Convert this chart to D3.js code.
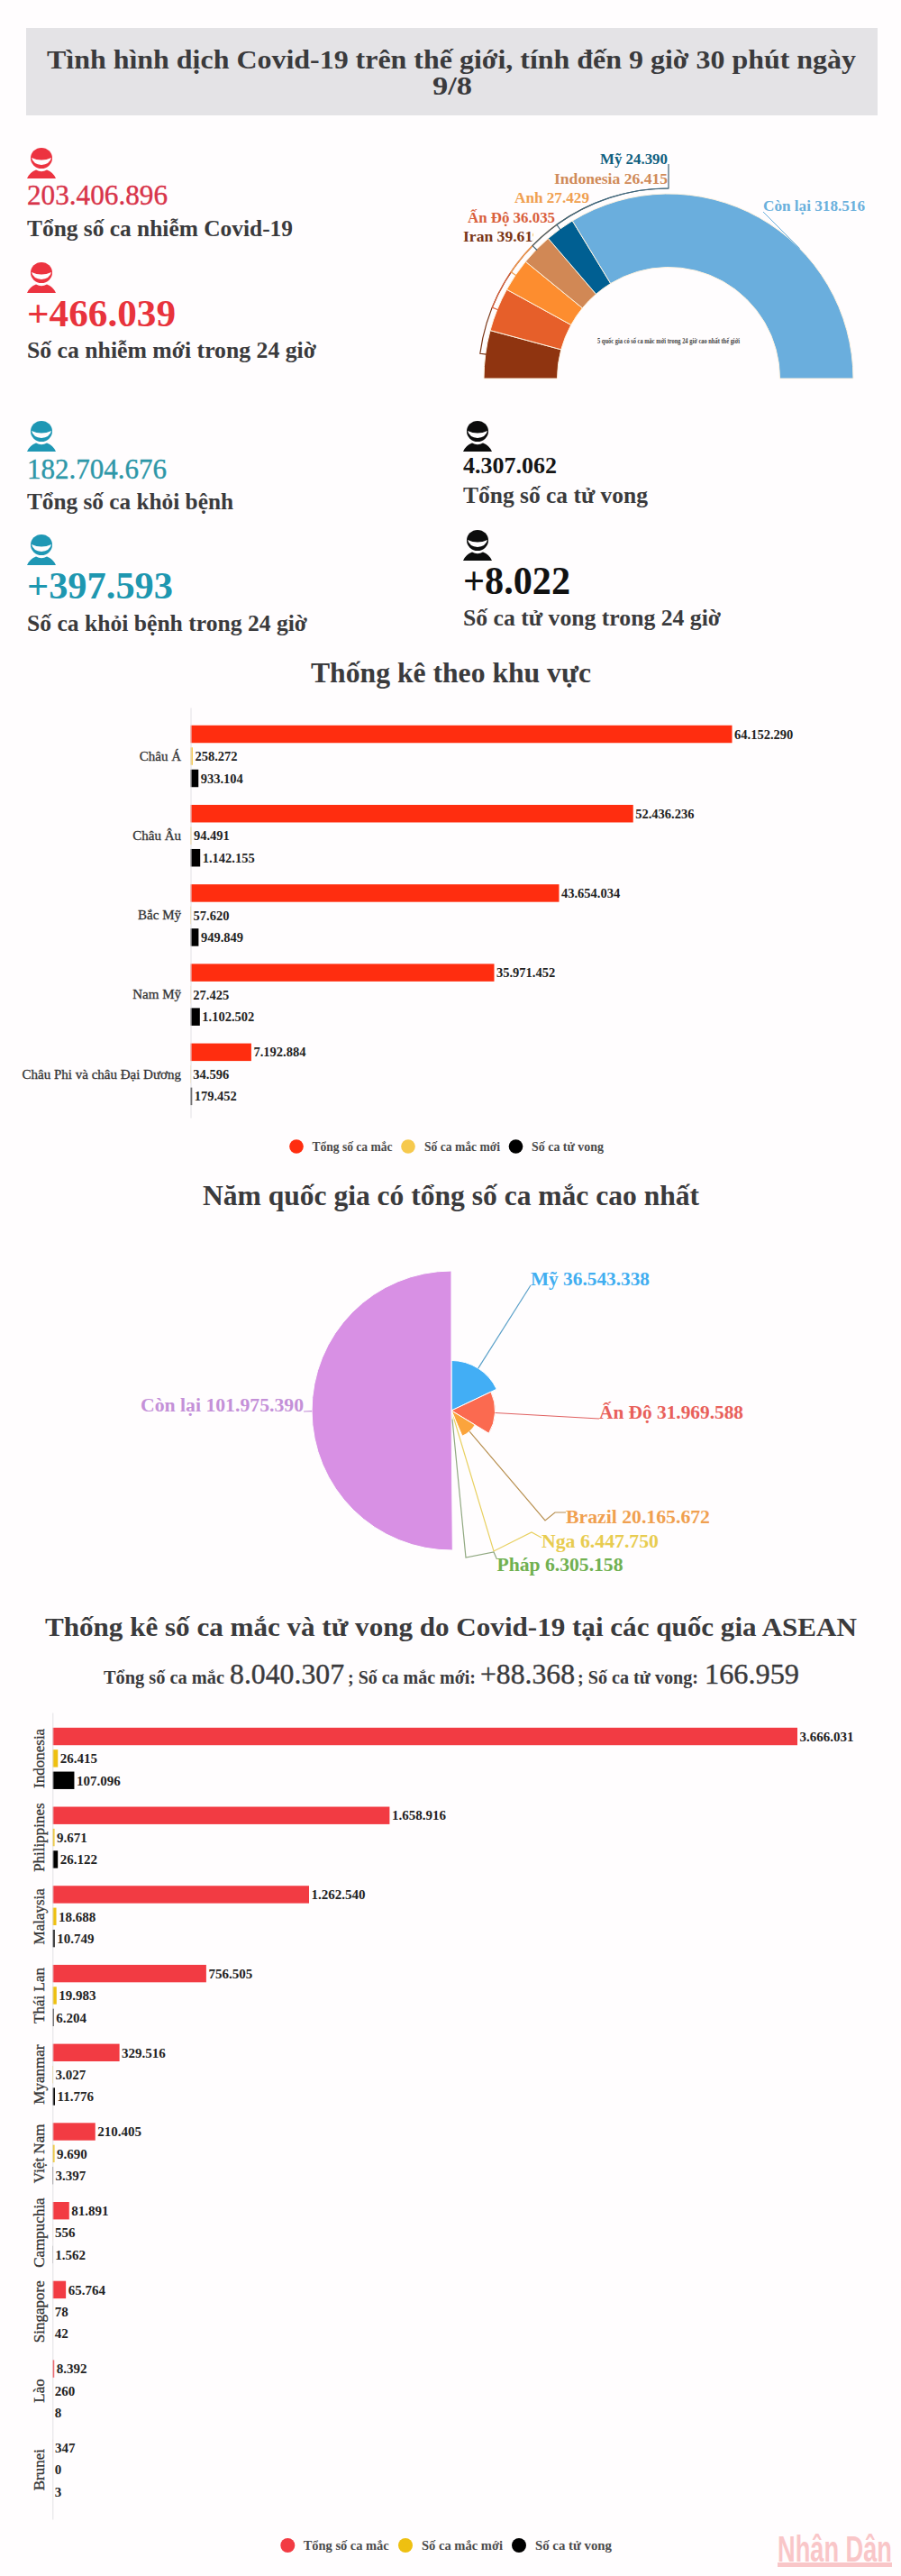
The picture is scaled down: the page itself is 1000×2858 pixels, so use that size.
<!DOCTYPE html>
<html>
<head>
<meta charset="utf-8">
<script src="https://cdn.jsdelivr.net/npm/d3@7"></script>
<style>
  html, body { margin: 0; padding: 0; background: #fffdfe; }
  svg { display: block; }
  text { font-family: "Liberation Serif", serif; }
</style>
</head>
<body>
<div id="chart"></div>
<script>
// so lieu doc tu anh
var halfNames = ["Iran", "Ấn Độ", "Anh", "Indonesia", "Mỹ", "Còn lại"];
var halfValues = [39619, 36035, 27429, 26415, 24390, 318516];
var halfLabels = ["Iran 39.619", "Ấn Độ 36.035", "Anh 27.429", "Indonesia 26.415", "Mỹ 24.390", "Còn lại 318.516"];

var regionNames = ["Châu Á", "Châu Âu", "Bắc Mỹ", "Nam Mỹ", "Châu Phi và châu Đại Dương"];
var regionTotal = [64152290, 52436236, 43654034, 35971452, 7192884];
var regionNew = [258272, 94491, 57620, 27425, 34596];
var regionDeaths = [933104, 1142155, 949849, 1102502, 179452];

var topNames = ["Mỹ", "Ấn Độ", "Brazil", "Nga", "Pháp", "Còn lại"];
var topValues = [36543338, 31969588, 20165672, 6447750, 6305158, 101975390];

var aseanNames = ["Indonesia", "Philippines", "Malaysia", "Thái Lan", "Myanmar", "Việt Nam", "Campuchia", "Singapore", "Lào", "Brunei"];
var aseanTotal = [3666031, 1658916, 1262540, 756505, 329516, 210405, 81891, 65764, 8392, 347];
var aseanNew = [26415, 9671, 18688, 19983, 3027, 9690, 556, 78, 260, 0];
var aseanDeaths = [107096, 26122, 10749, 6204, 11776, 3397, 1562, 42, 8, 3];

var seriesNames = ["Tổng số ca mắc", "Số ca mắc mới", "Số ca tử vong"];

var svg = d3.select("#chart").append("svg")
    .attr("width", 1000)
    .attr("height", 2858);

var fmt = d3.formatLocale({ decimal: ",", thousands: ".", grouping: [3], currency: ["", ""] }).format(",d");
var ink = "#3a3a3c";

function label(str, x, y, size, color, weight, width) {
    var t = svg.append("text")
        .attr("x", x)
        .attr("y", y)
        .attr("font-size", size)
        .attr("font-weight", weight || "bold")
        .attr("fill", color)
        .text(str);
    if (width) {
        t.attr("textLength", width).attr("lengthAdjust", "spacingAndGlyphs");
    }
    // chu thuong cua anh goc dam hon Liberation
    if (weight == "normal") {
        t.attr("stroke", color).attr("stroke-width", 0.4);
    }
    return t;
}

// ---- tieu de
svg.append("rect").attr("x", 29).attr("y", 31).attr("width", 945).attr("height", 97).attr("fill", "#e4e3e6");
label("Tình hình dịch Covid-19 trên thế giới, tính đến 9 giờ 30 phút ngày", 52, 76, 30, ink, "bold", 898);
label("9/8", 480, 105, 30, ink, "bold", 44);

// ---- hinh nguoi
function person(x, y, color) {
    var g = svg.append("g").attr("transform", "translate(" + x + "," + y + ")");
    g.append("ellipse").attr("cx", 16).attr("cy", 11.5).attr("rx", 12).attr("ry", 11.5).attr("fill", color);
    g.append("path").attr("d", "M5,11 Q16,16 27,11 Q25,18.5 16,19 Q7,18.5 5,11Z").attr("fill", "#fffdfe");
    g.append("path").attr("d", "M0,34 Q3,27 10,24.5 Q16,28 22,24.5 Q29,27 32,34Z").attr("fill", color);
}

var stats = [
    [30, 164, "#ec3340", "203.406.896", 227, 32, "normal", 156, "#d8344a", "Tổng số ca nhiễm Covid-19", 262, 295],
    [30, 291, "#ec3340", "+466.039", 362, 42, "bold", 165, "#e8333c", "Số ca nhiễm mới trong 24 giờ", 397, 321],
    [30, 467, "#1f97b4", "182.704.676", 531, 32, "normal", 155, "#2d97a8", "Tổng số ca khỏi bệnh", 565, 229],
    [30, 593, "#1f97b4", "+397.593", 664, 42, "bold", 162, "#1e97b0", "Số ca khỏi bệnh trong 24 giờ", 700, 311],
    [514, 467, "#0c0c0c", "4.307.062", 525, 26, "bold", 104, "#151515", "Tổng số ca tử vong", 558, 205],
    [514, 588, "#0c0c0c", "+8.022", 659, 44, "bold", 119, "#111111", "Số ca tử vong trong 24 giờ", 694, 286]
];
stats.forEach(function(s) {
    person(s[0], s[1], s[2]);
    label(s[3], s[0], s[4], s[5], s[8], s[6], s[7]);
    label(s[9], s[0], s[10], 25, ink, "bold", s[11]);
});

// ---- nua vong tron
var halfColors = ["#8f3410", "#e65f2a", "#fd8d2f", "#d18855", "#005f92", "#6aaedd"];
var halfText = ["#7a3515", "#d9603c", "#f0a050", "#d08a58", "#0f5f80", "#6ab0dc"];
var cx = 742, cy = 420;
var halfPie = d3.pie().sort(null).startAngle(-Math.PI / 2).endAngle(Math.PI / 2);
var halfArcs = halfPie(halfValues);
var halfG = svg.append("g").attr("transform", "translate(" + cx + "," + cy + ")");
halfG.selectAll("path.slice")
    .data(halfArcs)
    .enter().append("path")
    .attr("class", "slice")
    .attr("d", d3.arc().innerRadius(123.5).outerRadius(205))
    .attr("fill", function(d, i) { return halfColors[i]; })
    .attr("stroke", "#fff3e0")
    .attr("stroke-width", 1);

// duong dan nhan: cung tron chay sat mep ngoai
var leaderEnd = [-45, -36, -24, 0, 0];
halfArcs.slice(0, 5).forEach(function(d, i) {
    var a0 = (d.startAngle + d.endAngle) / 2;
    var a1 = leaderEnd[i] * Math.PI / 180;
    var p = d3.path();
    var inner = d3.pointRadial(a0, 204);
    p.moveTo(inner[0], inner[1]);
    p.arc(0, 0, 211, a0 - Math.PI / 2, a1 - Math.PI / 2);
    if (i >= 3) {
        p.lineTo(0, i == 3 ? -211 : -238);
    }
    halfG.append("path")
        .attr("d", p.toString())
        .attr("fill", "none")
        .attr("stroke", i >= 3 ? "#3f6478" : halfText[i])
        .attr("stroke-width", 1.2);
});
var lead5 = d3.pointRadial(0.79, 205);
svg.append("line")
    .attr("x1", cx + lead5[0]).attr("y1", cy + lead5[1])
    .attr("x2", 847).attr("y2", 235)
    .attr("stroke", "#6ab0dc");

svg.append("clipPath").attr("id", "iranClip")
    .append("rect").attr("x", 500).attr("y", 240).attr("width", 92).attr("height", 40);

var halfPos = [[514, 268, 86], [519, 247, 97], [571, 225, 83], [615, 203.5, 126], [666, 182, 75], [847, 234, 113]];
halfLabels.forEach(function(s, i) {
    var t = label(s, halfPos[i][0], halfPos[i][1], 17, halfText[i], "bold", halfPos[i][2]);
    if (i == 0) t.attr("clip-path", "url(#iranClip)");
});
label("5 quốc gia có số ca mắc mới trong 24 giờ cao nhất thế giới", 663, 381, 7.5, "#444", "bold", 158);

// ---- bieu do thanh
function groupedBars(opt) {
    var y0 = d3.scaleBand()
        .domain(opt.names)
        .range(opt.yRange)
        .paddingInner(0)
        .paddingOuter(opt.outer)
        .align(opt.align);
    var y1 = d3.scaleBand()
        .domain([0, 1, 2])
        .range([0, y0.bandwidth()])
        .paddingInner(0.204)
        .paddingOuter(0.402);
    var x = d3.scaleLinear()
        .domain([0, d3.max(opt.series[0])])
        .range([opt.x0, opt.x1]);

    var g = svg.append("g");
    opt.series.forEach(function(values, s) {
        g.selectAll("rect.s" + s)
            .data(values)
            .enter().append("rect")
            .attr("class", "s" + s)
            .attr("x", opt.x0)
            .attr("y", function(d, i) { return y0(opt.names[i]) + y1(s); })
            .attr("width", function(d) { return x(d) - opt.x0; })
            .attr("height", y1.bandwidth())
            .attr("fill", opt.colors[s]);
        g.selectAll("text.s" + s)
            .data(values)
            .enter().append("text")
            .attr("class", "s" + s)
            .attr("x", function(d) { return x(d) + 2.5; })
            .attr("y", function(d, i) { return y0(opt.names[i]) + y1(s) + y1.bandwidth() / 2; })
            .attr("dy", ".35em")
            .attr("font-size", opt.valueSize)
            .attr("font-weight", "bold")
            .attr("fill", "#222")
            .text(fmt);
    });

    var axis = svg.append("g")
        .attr("transform", "translate(" + opt.x0 + ",0)")
        .call(d3.axisLeft(y0).tickSize(0).tickPadding(opt.tickPad));
    axis.select(".domain").attr("stroke", "#e2e0e4");
    axis.selectAll("text")
        .attr("fill", "#333")
        .attr("stroke", "#333")
        .attr("stroke-width", 0.3)
        .style("font-family", '"Liberation Serif", serif')
        .style("font-size", opt.nameSize + "px");
    return axis;
}

function legend(y, items) {
    items.forEach(function(it, i) {
        svg.append("circle")
            .attr("cx", it[0]).attr("cy", y)
            .attr("r", it[4])
            .attr("fill", it[1]);
        label(seriesNames[i], it[2], y + 5, 15, "#4a4a4a", "bold", it[3]);
    });
}

label("Thống kê theo khu vực", 345, 757, 31, ink, "bold", 311);
groupedBars({
    names: regionNames,
    series: [regionTotal, regionNew, regionDeaths],
    colors: ["#ff2d0f", "#f6c94d", "#000000"],
    yRange: [785, 1240], outer: 0.079, align: 0.71,
    x0: 211.5, x1: 812.5,
    valueSize: 14.5, nameSize: 15, tickPad: 10.5
});
legend(1272, [[329, "#ff2d0f", 346.5, 89, 7.8], [453, "#f6c94d", 471, 84, 7.8], [572.5, "#000000", 590, 80, 7.8]]);

// ---- bieu do tron (ban kinh ti le voi so ca)
label("Năm quốc gia có tổng số ca mắc cao nhất", 225, 1337, 31, ink, "bold", 551);
var topColors = ["#42aef5", "#fb6a50", "#fba43c", "#f5d040", "#70b850", "#d890e4"];
var topText = ["#42aef0", "#e8605a", "#f0a050", "#e8cc50", "#70b050", "#c490d8"];
var lineColors = ["#5aa0c8", "#e06060", "#b89050", "#e8d060", "#90a880", "#c490d8"];
var pieCx = 501, pieCy = 1565;
var radius = d3.scaleLinear().domain([0, d3.max(topValues)]).range([0, 155]);
var topArcs = d3.pie().sort(null)(topValues);
var pieG = svg.append("g").attr("transform", "translate(" + pieCx + "," + pieCy + ")");
var topArc = d3.arc().innerRadius(0).outerRadius(function(d) { return radius(d.value); });
pieG.selectAll("path")
    .data(topArcs)
    .enter().append("path")
    .attr("d", topArc)
    .attr("fill", function(d, i) { return topColors[i]; })
    .attr("stroke", "#fff")
    .attr("stroke-width", 1);

var calloutPts = [
    [[589, 1426]],
    [[665, 1574]],
    [[605, 1687], [616, 1678], [628, 1678]],
    [[548, 1721], [590, 1700], [601, 1706]],
    [[517, 1728], [548, 1722], [551.5, 1730]],
    [[337, 1566]]
];
var calloutText = [[589, 1426, 132], [665, 1574, 160], [628, 1690, 160], [601, 1717, 130], [551.5, 1743, 140], [156, 1566, 181]];
topArcs.forEach(function(d, i) {
    var p0 = d3.pointRadial((d.startAngle + d.endAngle) / 2, radius(d.value));
    var pts = [[pieCx + p0[0], pieCy + p0[1]]].concat(calloutPts[i]);
    svg.append("path")
        .attr("d", d3.line()(pts))
        .attr("fill", "none")
        .attr("stroke", lineColors[i])
        .attr("stroke-width", 1.2);
    label(topNames[i] + " " + fmt(d.value), calloutText[i][0], calloutText[i][1], 22, topText[i], "bold", calloutText[i][2]);
});

// ---- ASEAN
label("Thống kê số ca mắc và tử vong do Covid-19 tại các quốc gia ASEAN", 50, 1815, 30, ink, "bold", 901);
var subParts = [
    ["Tổng số ca mắc", 115, 134, 20, "bold"],
    ["8.040.307", 255, 127, 32, "normal"],
    ["; Số ca mắc mới:", 386, 142, 20, "bold"],
    ["+88.368", 533, 105, 32, "normal"],
    ["; Số ca tử vong:", 641, 134, 20, "bold"],
    ["166.959", 782, 105, 32, "normal"]
];
subParts.forEach(function(s) {
    label(s[0], s[1], 1868, s[3], ink, s[4], s[2]);
});

var aseanAxis = groupedBars({
    names: aseanNames,
    series: [aseanTotal, aseanNew, aseanDeaths],
    colors: ["#f23b43", "#eec011", "#000000"],
    yRange: [1900, 2795], outer: 0.103, align: 0.39,
    x0: 58.3, x1: 885,
    valueSize: 15, nameSize: 17, tickPad: 9
});
// ten nuoc xoay doc
aseanAxis.selectAll(".tick text")
    .attr("x", 0)
    .attr("dy", 0)
    .attr("text-anchor", "middle")
    .attr("transform", "translate(-9.3,0) rotate(-90)");
legend(2824, [[319.3, "#f23b43", 336.7, 95, 8], [450, "#eec011", 468, 90, 8], [576, "#000000", 594, 85, 8]]);

// ---- logo
var logo = label("Nhân Dân", 863, 2842, 40, "#f9c6c8", "bold", 127);
logo.style("font-family", '"Liberation Sans", sans-serif');
svg.append("rect").attr("x", 863).attr("y", 2843).attr("width", 127).attr("height", 5).attr("fill", "#f9c6c8");
</script>
</body>
</html>
